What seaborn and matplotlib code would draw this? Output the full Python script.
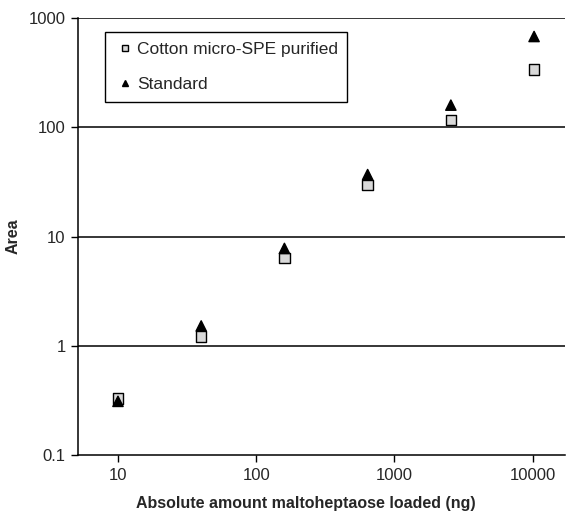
#Maltoheptaose calibration: purified vs standard, log-log
import pandas as pd
import matplotlib
matplotlib.use('Agg')
import matplotlib.pyplot as plt
import seaborn as sns

#values
amount_ng = [10, 40, 160, 640, 2560, 10240]
area_purified = [0.33, 1.22, 6.4, 29.5, 117, 340]
area_standard = [0.31, 1.52, 7.8, 37, 160, 680]
series_names = ['Cotton micro-SPE purified', 'Standard']

df = pd.DataFrame({'amount': amount_ng * 2,
                   'area': area_purified + area_standard,
                   'series': [series_names[0]] * 6 + [series_names[1]] * 6})

sns.set_style('white')
plt.rcParams['font.family'] = ['Liberation Sans', 'DejaVu Sans']

fig = plt.figure(figsize=(5.67, 5.2), dpi=100)
ax = fig.add_axes([0.1376, 0.125, 0.858, 0.840])

ax.set_xscale('log')
ax.set_yscale('log')
ax.set_xlim(5.14, 17000)
ax.set_ylim(0.1, 1000)

#gridlines at each decade
for y in [1, 10, 100, 1000]:
    ax.axhline(y, color='black', lw=1.1, zorder=1)

sns.scatterplot(data=df, x='amount', y='area', hue='series', style='series',
                markers={series_names[0]: 's', series_names[1]: '^'},
                palette={series_names[0]: '#d9d9d9', series_names[1]: 'black'},
                s=55, edgecolor='black', linewidth=1.0, ax=ax, zorder=3)

ax.set_xticks([10, 100, 1000, 10000])
ax.set_xticklabels(['10', '100', '1000', '10000'])
ax.set_yticks([0.1, 1, 10, 100, 1000])
ax.set_yticklabels(['0.1', '1', '10', '100', '1000'])
ax.minorticks_off()
ax.tick_params(axis='both', direction='out', length=5, width=1, color='black',
               labelsize=12, bottom=True, left=True, pad=4)

for s in ['top', 'right']:
    ax.spines[s].set_visible(False)
for s in ['left', 'bottom']:
    ax.spines[s].set_color('black')
    ax.spines[s].set_linewidth(1.1)

ax.set_xlabel('Absolute amount maltoheptaose loaded (ng)', fontsize=11.5,
              fontweight='bold')
ax.xaxis.set_label_coords(0.468, -0.095)
ax.set_ylabel('Area', fontsize=11.5, fontweight='bold', labelpad=6)

leg = ax.legend(loc='upper left', bbox_to_anchor=(0.055, 0.968), borderaxespad=0,
                fancybox=False, edgecolor='black', framealpha=1, fontsize=12.5,
                handlelength=1.2, handletextpad=0.1, borderpad=0.55,
                labelspacing=1.15, markerscale=0.6)
leg.get_frame().set_linewidth(1.0)

fig.savefig('out.png', dpi=100)
